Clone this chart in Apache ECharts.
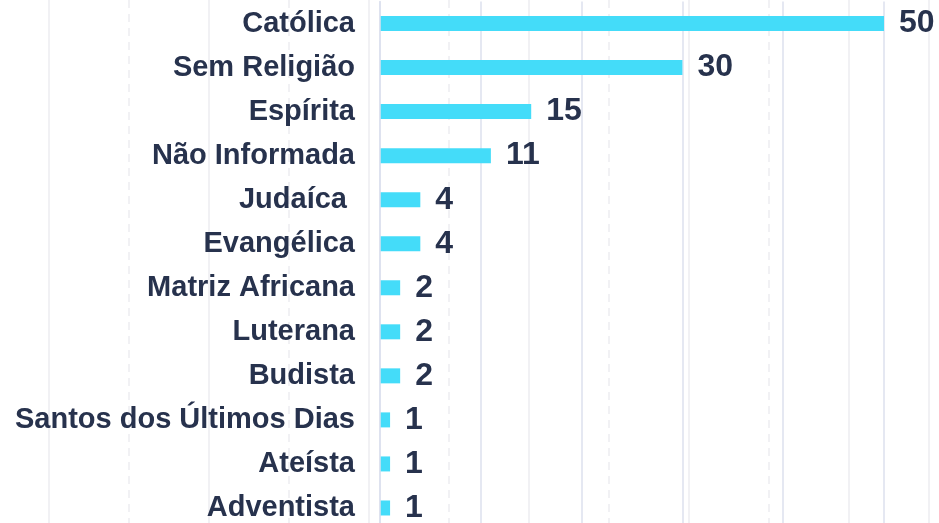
<!DOCTYPE html>
<html>
<head>
<meta charset="utf-8">
<script src="https://cdn.jsdelivr.net/npm/echarts@6/dist/echarts.min.js"></script>
<style>
  html, body { margin: 0; padding: 0; background: #fff; }
  #chart { width: 939px; height: 523px; }
</style>
</head>
<body>
<div id="chart"></div>
<script>
  // categories, top to bottom
  var categories = ['Católica', 'Sem Religião', 'Espírita', 'Não Informada', 'Judaíca ', 'Evangélica',
    'Matriz Africana', 'Luterana', 'Budista', 'Santos dos Últimos Dias', 'Ateísta', 'Adventista'];
  var values = [50, 30, 15, 11, 4, 4, 2, 2, 2, 1, 1, 1];

  var textColor = '#27324d';
  var barColor = '#44dcf9';

  var myChart = echarts.init(document.getElementById('chart'));
  var option = {
    animation: false,
    grid: [
      // main chart (runs a little past the bottom edge)
      {left: 380, right: 55, top: 1.5, height: 528.5, outerBoundsMode: 'none'},
      // background lines, solid
      {left: 49, right: 10, top: 0, bottom: 0, outerBoundsMode: 'none'},
      // background lines, dashed
      {left: 129, right: 10, top: 0, bottom: 0, outerBoundsMode: 'none'}
    ],
    xAxis: [
      {
        gridIndex: 0, type: 'value', min: 0, max: 50, interval: 10,
        axisLabel: {show: false}, axisLine: {show: false}, axisTick: {show: false},
        splitLine: {show: true, lineStyle: {color: '#dce1ee', width: 1.5}}
      },
      {
        gridIndex: 1, type: 'value', min: 0, max: 880, interval: 160,
        axisLabel: {show: false}, axisLine: {show: false}, axisTick: {show: false},
        splitLine: {show: true, lineStyle: {color: '#f1f1f4', width: 2}}
      },
      {
        gridIndex: 2, type: 'value', min: 0, max: 800, interval: 160,
        axisLabel: {show: false}, axisLine: {show: false}, axisTick: {show: false},
        splitLine: {show: true, lineStyle: {color: '#f1f1f4', width: 2, type: [8, 6]}}
      }
    ],
    yAxis: [
      {
        gridIndex: 0, type: 'category', data: categories, inverse: true,
        axisTick: {show: false},
        axisLine: {show: true, lineStyle: {color: '#dce1ee', width: 1.5}},
        axisLabel: {
          color: textColor, fontSize: 29, fontWeight: 'bold',
          fontFamily: '"Liberation Sans", Arial, sans-serif', margin: 25
        },
        z: 5
      },
      {gridIndex: 1, type: 'value', show: false},
      {gridIndex: 2, type: 'value', show: false}
    ],
    series: [
      {
        type: 'bar',
        xAxisIndex: 0,
        yAxisIndex: 0,
        data: values,
        barWidth: 15,
        itemStyle: {color: barColor},
        label: {
          show: true, position: 'right', distance: 15,
          color: textColor, fontSize: 32, fontWeight: 'bold',
          fontFamily: '"Liberation Sans", Arial, sans-serif'
        },
        z: 3
      }
    ]
  };
  myChart.setOption(option, true);
</script>
</body>
</html>
